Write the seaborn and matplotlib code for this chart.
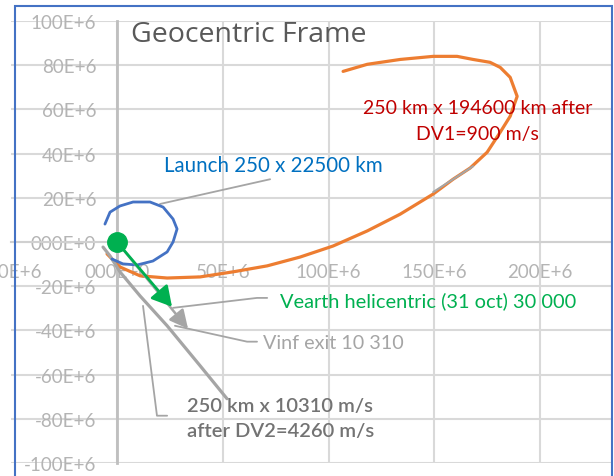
import matplotlib
matplotlib.use("Agg")
import matplotlib.pyplot as plt
from matplotlib.patches import Rectangle
import seaborn as sns

# values in units of 1E+6
launch_x = [-5.7, -3.3, 1.4, 7.6, 15.6, 21.8, 26.5, 28.4, 26.5, 23.7, 17.0, 9.5, 2.8, -2.4]
launch_y = [8.1, 13.5, 16.3, 18.1, 18.1, 15.8, 10.4, 5.9, 0.0, -4.5, -8.6, -10.4, -9.9, -7.7]

transfer_x = [-4.7, 1.4, 10.9, 23.7, 39.3, 54.9, 71.0, 86.6, 102.2, 118.3, 133.9, 149.5,
              158.9, 167.0, 175.0, 181.2, 185.9, 189.2, 185.9, 181.2, 176.4, 168.4,
              160.8, 149.5, 133.9, 118.3, 106.9]
transfer_y = [-5.4, -11.3, -15.3, -16.3, -15.8, -13.5, -10.8, -6.8, -1.8, 5.0, 12.6, 21.7,
              28.4, 33.5, 40.6, 49.7, 56.9, 65.9, 74.5, 79.0, 81.3, 82.6,
              84.0, 84.0, 82.6, 80.4, 77.2]

# gray stretch lying over the orange orbit
overlay_x = [149.5, 158.9, 168.4]
overlay_y = [22.6, 28.4, 34.3]

escape_x = [-6.6, -3.3, 1.4, 10.9, 23.7, 39.3, 52.0]
escape_y = [-2.3, -6.3, -13.5, -24.4, -37.9, -56.0, -70.9]

earth = (0.0, 0.0)
vearth_tip = (26.0, -29.3)
vinf_tip = (33.6, -39.3)

# leader lines
lead_launch_x, lead_launch_y = [20.3, 72.4], [17.2, 28.4]
lead_vearth_x, lead_vearth_y = [26.5, 66.2, 71.0], [-29.8, -25.3, -25.3]
lead_vinf_x, lead_vinf_y = [27.4, 61.5, 66.2], [-37.9, -45.1, -45.1]
lead_dv2_x, lead_dv2_y = [12.3, 18.9, 23.7], [-28.9, -78.6, -78.6]

x_ticks = [-50, 0, 50, 100, 150, 200]
x_labels = ["-50E+6", "000E+0", "50E+6", "100E+6", "150E+6", "200E+6"]
y_ticks = [100, 80, 60, 40, 20, 0, -20, -40, -60, -80, -100]
y_labels = ["100E+6", "80E+6", "60E+6", "40E+6", "20E+6", "000E+0",
            "-20E+6", "-40E+6", "-60E+6", "-80E+6", "-100E+6"]

BLUE = "#4472C4"
ORANGE = "#ED7D31"
GREEN = "#00B050"
GRAY = "#A5A5A5"

sns.set_theme(style="white")
plt.rcParams['font.family'] = ['Lato', 'DejaVu Sans']

W, H = 614, 477
fig = plt.figure(figsize=(W / 100, H / 100), dpi=100)
ax = fig.add_axes([11.25 / W, 13 / H, (612 - 11.25) / W, 442 / H])

sns.lineplot(x=transfer_x, y=transfer_y, sort=False, estimator=None, color=ORANGE,
             lw=2.3, ax=ax, zorder=3)
sns.lineplot(x=overlay_x, y=overlay_y, sort=False, estimator=None, color=GRAY,
             lw=1.5, ax=ax, zorder=3.5)
sns.lineplot(x=launch_x, y=launch_y, sort=False, estimator=None, color=BLUE,
             lw=2.0, ax=ax, zorder=4)
sns.lineplot(x=escape_x, y=escape_y, sort=False, estimator=None, color=GRAY,
             lw=2.3, ax=ax, zorder=3)

for lx, ly in [(lead_launch_x, lead_launch_y), (lead_vearth_x, lead_vearth_y),
               (lead_vinf_x, lead_vinf_y), (lead_dv2_x, lead_dv2_y)]:
    ax.plot(lx, ly, color=GRAY, lw=1.3, zorder=2.8)

ax.annotate("", xy=vinf_tip, xytext=earth, zorder=4,
            arrowprops=dict(arrowstyle="-|>,head_length=0.8,head_width=0.4",
                            color=GRAY, lw=1.8, mutation_scale=14, shrinkA=0, shrinkB=0))
ax.annotate("", xy=vearth_tip, xytext=earth, zorder=5,
            arrowprops=dict(arrowstyle="-|>,head_length=0.8,head_width=0.45",
                            color=GREEN, lw=2.0, mutation_scale=15, shrinkA=0, shrinkB=0))
ax.plot([earth[0]], [earth[1]], "o", ms=14, color=GREEN, zorder=6)

# texts
ax.text(6.6, 94.0, "Geocentric Frame", fontsize=20.5, color="#595959",
        family=["Open Sans", "DejaVu Sans"], va="center", ha="left")
ax.text(170.5, 54.9, "250 km x 194600 km after\nDV1=900 m/s", fontsize=14,
        color="#C00000", ha="center", va="center", linespacing=1.6, zorder=7)
ax.text(22.2, 34.8, "Launch 250 x 22500 km", fontsize=14.8, color="#0070C0",
        ha="left", va="center")
ax.text(77.1, -26.2, "Vearth helicentric (31 oct) 30 000", fontsize=14.4,
        color=GREEN, ha="left", va="center")
ax.text(69.1, -45.6, "Vinf exit 10 310", fontsize=14.2, color=GRAY,
        ha="left", va="center")
ax.text(33.1, -79.7, "250 km x 10310 m/s\nafter DV2=4260 m/s", fontsize=14.5,
        color="#737373", ha="left", va="center", linespacing=1.6, zorder=7,
        fontweight="semibold")

ax.set_xlim(-50, (612 - 117) / 2.115)
ax.set_ylim(-100, 100)
ax.set_xticks(x_ticks, x_labels)
ax.set_yticks(y_ticks, y_labels)
ax.tick_params(length=0, labelsize=13.5, labelcolor="#B4B4B4")
ax.tick_params(axis="y", pad=15)
ax.tick_params(axis="x", pad=15)

for s in ["top", "right"]:
    ax.spines[s].set_visible(False)
ax.spines["left"].set_position(("data", 0))
ax.spines["bottom"].set_position(("data", 0))
ax.spines["left"].set_color("#BFBFBF")
ax.spines["bottom"].set_color("#D0D0D0")
ax.spines["left"].set_linewidth(2)
ax.spines["bottom"].set_linewidth(1.5)
ax.spines["left"].set_zorder(2)
ax.spines["bottom"].set_zorder(2)

ax.grid(True, color="#D9D9D9", lw=1.5)
ax.set_axisbelow(True)
ax.xaxis.get_major_ticks()[0].gridline.set_visible(False)
ax.set_facecolor("none")
ax.set_xlabel("")
ax.set_ylabel("")

fig.add_artist(Rectangle((15 / W, -0.05), (612 - 15) / W, (H - 7) / H + 0.05,
                         transform=fig.transFigure, fill=False, edgecolor=BLUE, lw=1.5))

fig.savefig("out.png", dpi=100)
